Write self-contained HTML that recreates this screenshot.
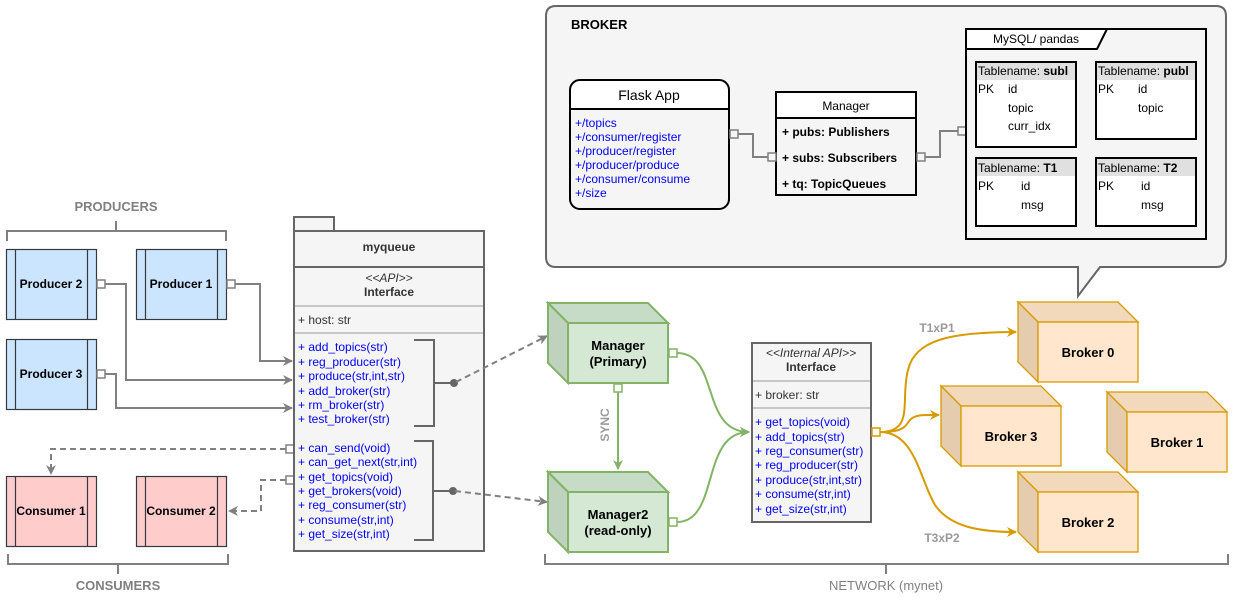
<!DOCTYPE html>
<html><head><meta charset="utf-8"><style>
html,body{margin:0;padding:0;background:#fff;}
svg{display:block;font-family:"Liberation Sans",sans-serif;}
.b{font-weight:bold}
.blue{fill:#0000ff}
</style></head><body>
<svg width="1234" height="606" viewBox="0 0 1234 606" xmlns="http://www.w3.org/2000/svg">
<defs>
<marker id="ag" markerWidth="10" markerHeight="10" refX="9" refY="5" orient="auto" markerUnits="userSpaceOnUse"><path d="M0,0 L10,5 L0,10 L3,5 Z" fill="#808080"/></marker>
<marker id="agr" markerWidth="10" markerHeight="10" refX="9" refY="5" orient="auto" markerUnits="userSpaceOnUse"><path d="M0,0 L10,5 L0,10 L3,5 Z" fill="#82b366"/></marker>
<marker id="ao" markerWidth="10" markerHeight="10" refX="9" refY="5" orient="auto" markerUnits="userSpaceOnUse"><path d="M0,0 L10,5 L0,10 L3,5 Z" fill="#d79b00"/></marker>
</defs>

<!-- BROKER callout -->
<path d="M556,6 H1216 Q1226,6 1226,16 V257 Q1226,267 1216,267 H1100 L1078,296 V267 H556 Q546,267 546,257 V16 Q546,6 556,6 Z" fill="#f5f5f5" stroke="#666" stroke-width="2"/>
<text x="571" y="29" font-size="13" class="b" fill="#000">BROKER</text>

<!-- Flask App -->
<path d="M580,80 H719 Q729,80 729,90 V109 H570 V90 Q570,80 580,80 Z" fill="#fff"/>
<rect x="570" y="80" width="159" height="129" rx="10" fill="none" stroke="#000" stroke-width="2"/>
<line x1="570" y1="109" x2="729" y2="109" stroke="#000" stroke-width="2"/>
<text x="649" y="100" font-size="14" text-anchor="middle">Flask App</text>
<g font-size="12" class="blue">
<text x="575" y="127">+/topics</text>
<text x="575" y="141">+/consumer/register</text>
<text x="575" y="155">+/producer/register</text>
<text x="575" y="169">+/producer/produce</text>
<text x="575" y="183">+/consumer/consume</text>
<text x="575" y="197">+/size</text>
</g>

<!-- Manager -->
<rect x="776" y="92" width="140" height="26" fill="#fff"/>
<rect x="776" y="92" width="140" height="103" fill="none" stroke="#000" stroke-width="2"/>
<line x1="776" y1="118" x2="916" y2="118" stroke="#000" stroke-width="2"/>
<text x="846" y="110" font-size="12" text-anchor="middle">Manager</text>
<g font-size="12" class="b">
<text x="782" y="136">+ pubs: Publishers</text>
<text x="782" y="162">+ subs: Subscribers</text>
<text x="782" y="188">+ tq: TopicQueues</text>
</g>
<path d="M738,134 H753 V157 H768" fill="none" stroke="#808080" stroke-width="2"/>
<rect x="730" y="130" width="8" height="8" fill="#f5f5f5" stroke="#808080" stroke-width="1.5"/>
<rect x="768" y="153" width="8" height="8" fill="#f5f5f5" stroke="#808080" stroke-width="1.5"/>
<path d="M925,157 H940 V131 H958" fill="none" stroke="#808080" stroke-width="2"/>
<rect x="917" y="153" width="8" height="8" fill="#f5f5f5" stroke="#808080" stroke-width="1.5"/>
<rect x="958" y="127" width="8" height="8" fill="#f5f5f5" stroke="#808080" stroke-width="1.5"/>

<!-- MySQL frame -->
<rect x="966" y="29" width="240" height="210" fill="none" stroke="#000" stroke-width="2"/>
<path d="M966,29 H1107 L1097,49 H966 Z" fill="#fff" stroke="#000" stroke-width="2"/>
<text x="1036" y="43" font-size="12" text-anchor="middle">MySQL/ pandas</text>
<g font-size="12">
<rect x="976" y="62" width="100" height="85" fill="#fff" stroke="#000" stroke-width="2"/>
<rect x="977" y="63" width="98" height="17" fill="#e0e0e0"/>
<text x="978" y="75">Tablename: <tspan class="b">subl</tspan></text>
<text x="978" y="93">PK</text><text x="1008" y="93">id</text>
<text x="1008" y="112">topic</text><text x="1008" y="130">curr_idx</text>

<rect x="1096" y="62" width="100" height="77" fill="#fff" stroke="#000" stroke-width="2"/>
<rect x="1097" y="63" width="98" height="17" fill="#e0e0e0"/>
<text x="1098" y="75">Tablename: <tspan class="b">publ</tspan></text>
<text x="1098" y="93">PK</text><text x="1138" y="93">id</text>
<text x="1138" y="112">topic</text>

<rect x="976" y="158" width="100" height="68" fill="#fff" stroke="#000" stroke-width="2"/>
<rect x="977" y="159" width="98" height="17" fill="#e0e0e0"/>
<text x="978" y="172">Tablename: <tspan class="b">T1</tspan></text>
<text x="978" y="190">PK</text><text x="1021" y="190">id</text>
<text x="1021" y="209">msg</text>

<rect x="1096" y="158" width="100" height="68" fill="#fff" stroke="#000" stroke-width="2"/>
<rect x="1097" y="159" width="98" height="17" fill="#e0e0e0"/>
<text x="1098" y="172">Tablename: <tspan class="b">T2</tspan></text>
<text x="1098" y="190">PK</text><text x="1141" y="190">id</text>
<text x="1141" y="209">msg</text>
</g>

<!-- PRODUCERS bracket -->
<text x="116" y="211" font-size="13" class="b" fill="#808080" text-anchor="middle">PRODUCERS</text>
<path d="M7,241 V231 H226 V241 M116,231 V221" fill="none" stroke="#808080" stroke-width="2"/>
<!-- CONSUMERS bracket -->
<path d="M8,554 V564 H228 V554 M118,564 V574" fill="none" stroke="#808080" stroke-width="2"/>
<text x="118" y="590" font-size="13" class="b" fill="#808080" text-anchor="middle">CONSUMERS</text>
<!-- NETWORK bracket -->
<path d="M545,554 V564 H1228 V554 M886,564 V574" fill="none" stroke="#808080" stroke-width="2"/>
<text x="886" y="590" font-size="13" fill="#808080" text-anchor="middle">NETWORK (mynet)</text>

<!-- Producers -->
<g stroke="#36393d" stroke-width="1.2">
<rect x="6.5" y="249.5" width="90" height="70" fill="#cce5ff"/><path d="M15.5,249.5 V319.5 M87.5,249.5 V319.5"/>
<rect x="136.5" y="249.5" width="90" height="70" fill="#cce5ff"/><path d="M145.5,249.5 V319.5 M217.5,249.5 V319.5"/>
<rect x="6.5" y="339.5" width="90" height="70" fill="#cce5ff"/><path d="M15.5,339.5 V409.5 M87.5,339.5 V409.5"/>
<rect x="6.5" y="476.5" width="90" height="70" fill="#ffcccc"/><path d="M15.5,476.5 V546.5 M87.5,476.5 V546.5"/>
<rect x="136.5" y="476.5" width="90" height="70" fill="#ffcccc"/><path d="M145.5,476.5 V546.5 M217.5,476.5 V546.5"/>
</g>
<g font-size="12" class="b" text-anchor="middle">
<text x="51" y="288">Producer 2</text>
<text x="181" y="288">Producer 1</text>
<text x="51" y="378">Producer 3</text>
<text x="51" y="515">Consumer 1</text>
<text x="181" y="515">Consumer 2</text>
</g>

<!-- producer connectors -->
<g fill="none" stroke="#808080" stroke-width="2">
<path d="M235,284 H260 V361 H292" marker-end="url(#ag)"/>
<path d="M105,284 H126 V380 H292" marker-end="url(#ag)"/>
<path d="M105,374 H116 V408 H292" marker-end="url(#ag)"/>
<path d="M286,449 H51 V474" stroke-dasharray="6,4" marker-end="url(#ag)"/>
<path d="M286,480 H261 V511 H229" stroke-dasharray="6,4" marker-end="url(#ag)"/>
</g>
<g fill="#fff" stroke="#808080" stroke-width="1.5">
<rect x="227" y="280" width="8" height="8"/>
<rect x="97" y="280" width="8" height="8"/>
<rect x="97" y="370" width="8" height="8"/>
<rect x="286" y="445" width="8" height="8"/>
<rect x="286" y="476" width="8" height="8"/>
</g>

<!-- myqueue -->
<rect x="294" y="217" width="40" height="14" fill="#f5f5f5" stroke="#666" stroke-width="2"/>
<rect x="294" y="231" width="190" height="320" fill="#f5f5f5" stroke="#666" stroke-width="2"/>
<line x1="294" y1="267" x2="484" y2="267" stroke="#666" stroke-width="2"/>
<text x="389" y="251" font-size="12" class="b" fill="#333" text-anchor="middle">myqueue</text>
<text x="389" y="282" font-size="12" font-style="italic" fill="#333" text-anchor="middle">&lt;&lt;API&gt;&gt;</text>
<text x="389" y="296" font-size="12" class="b" fill="#333" text-anchor="middle">Interface</text>
<line x1="295" y1="306" x2="483" y2="306" stroke="#999"/>
<text x="298" y="324" font-size="12" fill="#333">+ host: str</text>
<line x1="295" y1="333" x2="483" y2="333" stroke="#999"/>
<g font-size="12" class="blue">
<text x="298" y="351">+ add_topics(str)</text>
<text x="298" y="366">+ reg_producer(str)</text>
<text x="298" y="380">+ produce(str,int,str)</text>
<text x="298" y="395">+ add_broker(str)</text>
<text x="298" y="409">+ rm_broker(str)</text>
<text x="298" y="423">+ test_broker(str)</text>
<text x="298" y="452">+ can_send(void)</text>
<text x="298" y="466">+ can_get_next(str,int)</text>
<text x="298" y="481">+ get_topics(void)</text>
<text x="298" y="495">+ get_brokers(void)</text>
<text x="298" y="509">+ reg_consumer(str)</text>
<text x="298" y="524">+ consume(str,int)</text>
<text x="298" y="538">+ get_size(str,int)</text>
</g>
<g fill="none" stroke="#666" stroke-width="2">
<path d="M414,340 H434 V426 H414"/>
<path d="M434,383 H454"/>
<path d="M414,441 H433 V540 H414"/>
<path d="M433,491 H454"/>
</g>
<circle cx="454" cy="383" r="4" fill="#666"/>
<circle cx="453" cy="491" r="4" fill="#666"/>
<g fill="none" stroke="#808080" stroke-width="2" stroke-dasharray="6,4">
<path d="M456,382 L547,336" marker-end="url(#ag)"/>
<path d="M455,491 L547,502" marker-end="url(#ag)"/>
</g>

<!-- Green cubes -->
<g stroke="#82b366" stroke-width="2">
<path d="M548,303 H648 L668,323 H568 Z" fill="#c7dcc6"/>
<path d="M548,303 L568,323 V383 L548,363 Z" fill="#bfd2be"/>
<rect x="568" y="323" width="100" height="60" fill="#d5e8d4"/>
<path d="M548,472 H648 L668,492 H568 Z" fill="#c7dcc6"/>
<path d="M548,472 L568,492 V552 L548,532 Z" fill="#bfd2be"/>
<rect x="568" y="492" width="100" height="60" fill="#d5e8d4"/>
</g>
<g font-size="13" class="b" text-anchor="middle">
<text x="618" y="350">Manager</text><text x="618" y="366">(Primary)</text>
<text x="618" y="519">Manager2</text><text x="618" y="535">(read-only)</text>
</g>
<line x1="618" y1="392" x2="618" y2="469" stroke="#82b366" stroke-width="2" marker-end="url(#agr)"/>
<text transform="translate(609,425) rotate(-90)" font-size="12" class="b" fill="#999" text-anchor="middle">SYNC</text>
<g fill="none" stroke="#82b366" stroke-width="2">
<path d="M677,353 C720,353 700,432 749,432" marker-end="url(#agr)"/>
<path d="M677,522 C720,522 700,432 749,432" marker-end="url(#agr)"/>
</g>
<g fill="#fff" stroke="#82b366" stroke-width="1.5">
<rect x="614" y="384" width="8" height="8"/>
<rect x="669" y="349" width="8" height="8"/>
<rect x="669" y="518" width="8" height="8"/>
</g>

<!-- Internal API -->
<rect x="752" y="343" width="119" height="179" fill="#f5f5f5" stroke="#666" stroke-width="2"/>
<text x="811" y="357" font-size="12" font-style="italic" fill="#333" text-anchor="middle">&lt;&lt;Internal API&gt;&gt;</text>
<text x="811" y="371" font-size="12" class="b" fill="#333" text-anchor="middle">Interface</text>
<line x1="753" y1="381" x2="870" y2="381" stroke="#999"/>
<text x="755" y="399" font-size="12" fill="#333">+ broker: str</text>
<line x1="753" y1="408" x2="870" y2="408" stroke="#999"/>
<g font-size="12" class="blue">
<text x="755" y="426">+ get_topics(void)</text>
<text x="755" y="441">+ add_topics(str)</text>
<text x="755" y="455">+ reg_consumer(str)</text>
<text x="755" y="469">+ reg_producer(str)</text>
<text x="755" y="484">+ produce(str,int,str)</text>
<text x="755" y="498">+ consume(str,int)</text>
<text x="755" y="513">+ get_size(str,int)</text>
</g>

<!-- Orange connectors -->
<g fill="none" stroke="#d79b00" stroke-width="2">
<path d="M880,432 C915,432 900,400 908,370 C915,340 950,332 1016,332" marker-end="url(#ao)"/>
<path d="M880,432 C905,432 905,426 910,420 C915,414 925,415 939,415" marker-end="url(#ao)"/>
<path d="M880,432 C915,432 920,480 935,505 C950,527 980,532 1016,532" marker-end="url(#ao)"/>
</g>
<rect x="872" y="428" width="8" height="8" fill="#fff" stroke="#d79b00" stroke-width="1.5"/>
<text x="937" y="332" font-size="12" class="b" fill="#999" text-anchor="middle">T1xP1</text>
<text x="942" y="542" font-size="12" class="b" fill="#999" text-anchor="middle">T3xP2</text>

<!-- Broker cubes -->
<g stroke="#d79b00" stroke-width="1.3">
<path d="M1018,302 H1118 L1138,322 H1038 Z" fill="#f2d9bb"/>
<path d="M1018,302 L1038,322 V382 L1018,362 Z" fill="#e6ccae"/>
<rect x="1038" y="322" width="100" height="60" fill="#ffe6cc"/>
<path d="M941,386 H1041 L1061,406 H961 Z" fill="#f2d9bb"/>
<path d="M941,386 L961,406 V466 L941,446 Z" fill="#e6ccae"/>
<rect x="961" y="406" width="100" height="60" fill="#ffe6cc"/>
<path d="M1107,392 H1207 L1227,412 H1127 Z" fill="#f2d9bb"/>
<path d="M1107,392 L1127,412 V472 L1107,452 Z" fill="#e6ccae"/>
<rect x="1127" y="412" width="100" height="60" fill="#ffe6cc"/>
<path d="M1018,472 H1118 L1138,492 H1038 Z" fill="#f2d9bb"/>
<path d="M1018,472 L1038,492 V552 L1018,532 Z" fill="#e6ccae"/>
<rect x="1038" y="492" width="100" height="60" fill="#ffe6cc"/>
</g>
<g font-size="13" class="b" text-anchor="middle">
<text x="1088" y="357">Broker 0</text>
<text x="1011" y="441">Broker 3</text>
<text x="1177" y="447">Broker 1</text>
<text x="1088" y="527">Broker 2</text>
</g>
</svg>
</body></html>
